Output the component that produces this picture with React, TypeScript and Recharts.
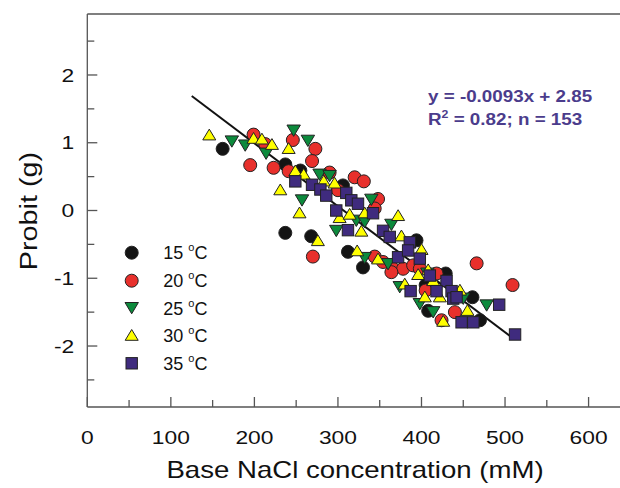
import React from "react";
import { ScatterChart, Scatter, XAxis, YAxis, ReferenceLine } from "recharts";

const FONT = '"Liberation Sans", Arial, sans-serif';

// 15 °C
const BLACK_X = [162, 237, 255, 306, 237, 268, 312, 330, 394, 429, 405, 408, 461, 470];
const BLACK_Y = [0.91, 0.68, 0.59, 0.37, -0.33, -0.38, -0.61, -0.84, -0.44, -0.93, -1.1, -1.48, -1.28, -1.62];

// 20 °C
const RED_X = [199, 213, 195, 223, 241, 246, 273, 269, 290, 320, 331, 348, 344, 270, 344, 354, 366, 378, 390, 398, 418, 405, 424, 440, 466, 509, 300, 364];
const RED_Y = [1.12, 0.98, 0.67, 0.63, 0.58, 1.04, 0.91, 0.73, 0.56, 0.49, 0.43, 0.17, 0.03, -0.68, -0.68, -0.76, -0.86, -0.86, -0.81, -0.86, -0.93, -1.18, -1.62, -1.5, -0.78, -1.1, 0.3, -0.91];

// 25 °C
const GREEN_X = [173, 189, 214, 247, 264, 257, 278, 290, 340, 322, 332, 298, 364, 332, 360, 374, 407, 398, 414, 450, 478];
const GREEN_Y = [1.02, 0.96, 0.84, 1.18, 1.03, 0.15, 0.53, 0.51, 0.16, -0.15, -0.17, -0.3, -0.21, -0.7, -0.79, -1.13, -0.93, -1.38, -1.5, -1.3, -1.4];

// 30 °C
const YELLOW_X = [146, 199, 209, 221, 241, 249, 259, 231, 254, 283, 296, 332, 302, 314, 328, 372, 376, 400, 276, 323, 348, 396, 408, 380, 414, 422, 404, 426, 446, 455];
const YELLOW_Y = [1.12, 1.07, 1.06, 0.98, 0.92, 0.59, 0.54, 0.31, -0.03, 0.44, 0.41, -0.03, -0.1, -0.05, -0.3, -0.07, -0.37, -0.57, -0.44, -0.59, -0.71, -0.94, -0.87, -1.08, -1.03, -1.27, -1.27, -1.63, -1.17, -1.47];

// 35 °C
const PURPLE_X = [249, 269, 279, 286, 298, 310, 316, 324, 342, 312, 354, 362, 386, 398, 372, 384, 410, 387, 430, 418, 436, 438, 442, 448, 462, 493, 512];
const PURPLE_Y = [0.43, 0.38, 0.31, 0.22, 0, 0.26, 0.15, 0.1, -0.04, -0.29, -0.3, -0.39, -0.47, -0.71, -0.69, -0.59, -0.96, -1.19, -1.04, -1.19, -1.19, -1.3, -1.28, -1.65, -1.65, -1.39, -1.83];

// regression line ends
const FIT_X = [125, 510];
const FIT_Y = [1.69, -1.89];

const X_TICKS = [0, 50, 100, 150, 200, 250, 300, 350, 400, 450, 500, 550, 600];
const Y_TICKS = [-2.5, -2, -1.5, -1, -0.5, 0, 0.5, 1, 1.5, 2, 2.5];

const zip = (xs: number[], ys: number[]) => xs.map((x, i) => ({ x, y: ys[i] }));

const SERIES = [
  { name: "15", kind: "circle", color: "#141414", data: zip(BLACK_X, BLACK_Y) },
  { name: "20", kind: "circle", color: "#e8302c", data: zip(RED_X, RED_Y) },
  { name: "25", kind: "down", color: "#0c8a3c", data: zip(GREEN_X, GREEN_Y) },
  { name: "30", kind: "up", color: "#ffff00", data: zip(YELLOW_X, YELLOW_Y) },
  { name: "35", kind: "square", color: "#3f2b7e", data: zip(PURPLE_X, PURPLE_Y) },
];

const marker = (kind: string, cx: number, cy: number, color: string) => {
  const common = { fill: color, stroke: "#222", strokeWidth: 1 };
  if (kind === "circle") return <circle cx={cx} cy={cy} r={6.5} {...common} />;
  if (kind === "down")
    return (
      <polygon
        points={`${cx - 6.7},${cy - 5.5} ${cx + 6.7},${cy - 5.5} ${cx},${cy + 5.8}`}
        {...common}
      />
    );
  if (kind === "up")
    return (
      <polygon
        points={`${cx - 6.5},${cy + 5.3} ${cx + 6.5},${cy + 5.3} ${cx},${cy - 5.5}`}
        {...common}
      />
    );
  return <rect x={cx - 5.7} y={cy - 5.7} width={11.4} height={11.4} {...common} />;
};

const XTick = ({ x, y, payload }: any) => {
  const v = payload.value;
  const major = v % 100 === 0;
  return (
    <g>
      <line x1={x} x2={x} y1={y} y2={y - (major ? 10 : 7)} stroke="#555" strokeWidth={1.3} />
      {major && (
        <text
          transform={`translate(${x},${y + 37}) scale(1.2,1)`}
          textAnchor="middle"
          fontSize={19}
          fontFamily={FONT}
          fill="#111"
        >
          {v}
        </text>
      )}
    </g>
  );
};

const YTick = ({ x, y, payload }: any) => {
  const v = payload.value;
  const major = Number.isInteger(v);
  return (
    <g>
      <line x1={x} x2={x + (major ? 10 : 7)} y1={y} y2={y} stroke="#555" strokeWidth={1.3} />
      {major && (
        <text
          transform={`translate(${x - 13},${y + 6.7}) scale(1.2,1)`}
          textAnchor="end"
          fontSize={19}
          fontFamily={FONT}
          fill="#111"
        >
          {v}
        </text>
      )}
    </g>
  );
};

const LEGEND_ROWS = [252.7, 280.7, 308, 335, 363.3];

export default function App() {
  return (
    <div style={{ position: "fixed", left: 0, top: 0, width: 620, height: 488, overflow: "hidden", background: "#fff" }}>
      <ScatterChart width={640} height={488} margin={{ top: 14, right: 18, bottom: 80, left: 86.3 }}>
        <XAxis
          type="number"
          dataKey="x"
          domain={[0, 640]}
          ticks={X_TICKS}
          height={1}
          tickSize={0}
          tickMargin={0}
          tick={<XTick />}
          interval={0}
          axisLine={{ stroke: "#555", strokeWidth: 1.3 }}
          allowDataOverflow
        />
        <YAxis
          type="number"
          dataKey="y"
          domain={[-2.9, 2.9]}
          ticks={Y_TICKS}
          width={1}
          tickSize={0}
          tickMargin={0}
          tick={<YTick />}
          interval={0}
          axisLine={{ stroke: "#555", strokeWidth: 1.3 }}
          allowDataOverflow
        />
        <ReferenceLine y={2.9} stroke="#555" strokeWidth={1.3} />
        {SERIES.map((s) => (
          <Scatter
            key={s.name}
            data={s.data}
            isAnimationActive={false}
            shape={(p: any) => marker(s.kind, p.cx, p.cy, s.color)}
          />
        ))}
        <ReferenceLine
          segment={[
            { x: FIT_X[0], y: FIT_Y[0] },
            { x: FIT_X[1], y: FIT_Y[1] },
          ]}
          stroke="#111"
          strokeWidth={2}
        />
      </ScatterChart>
      <svg
        width={620}
        height={488}
        style={{ position: "absolute", left: 0, top: 0, pointerEvents: "none" }}
        fontFamily={FONT}
      >
        <text transform="translate(355,478) scale(1.2,1)" textAnchor="middle" fontSize={23} fill="#111">
          Base NaCl concentration (mM)
        </text>
        <text transform="translate(37,211) rotate(-90) scale(1.2,1)" textAnchor="middle" fontSize={24} fill="#111">
          Probit (g)
        </text>
        <g fill="#4b3c8c" fontWeight="bold" fontSize={16.8}>
          <text transform="translate(428,101.7) scale(1.12,1)">y = -0.0093x + 2.85</text>
          <text transform="translate(428,125) scale(1.12,1)">
            R<tspan fontSize={11} dy={-7}>2</tspan>
            <tspan dy={7}> = 0.82; n = 153</tspan>
          </text>
        </g>
        {SERIES.map((s, i) => (
          <g key={s.name}>
            {marker(s.kind, 131.7, LEGEND_ROWS[i], s.color)}
            <text x={163.3} y={LEGEND_ROWS[i] + 6.5} fontSize={18} fill="#111">
              {s.name + " "}
              <tspan fontSize={11} dy={-8}>o</tspan>
              <tspan dy={8}>C</tspan>
            </text>
          </g>
        ))}
      </svg>
    </div>
  );
}
